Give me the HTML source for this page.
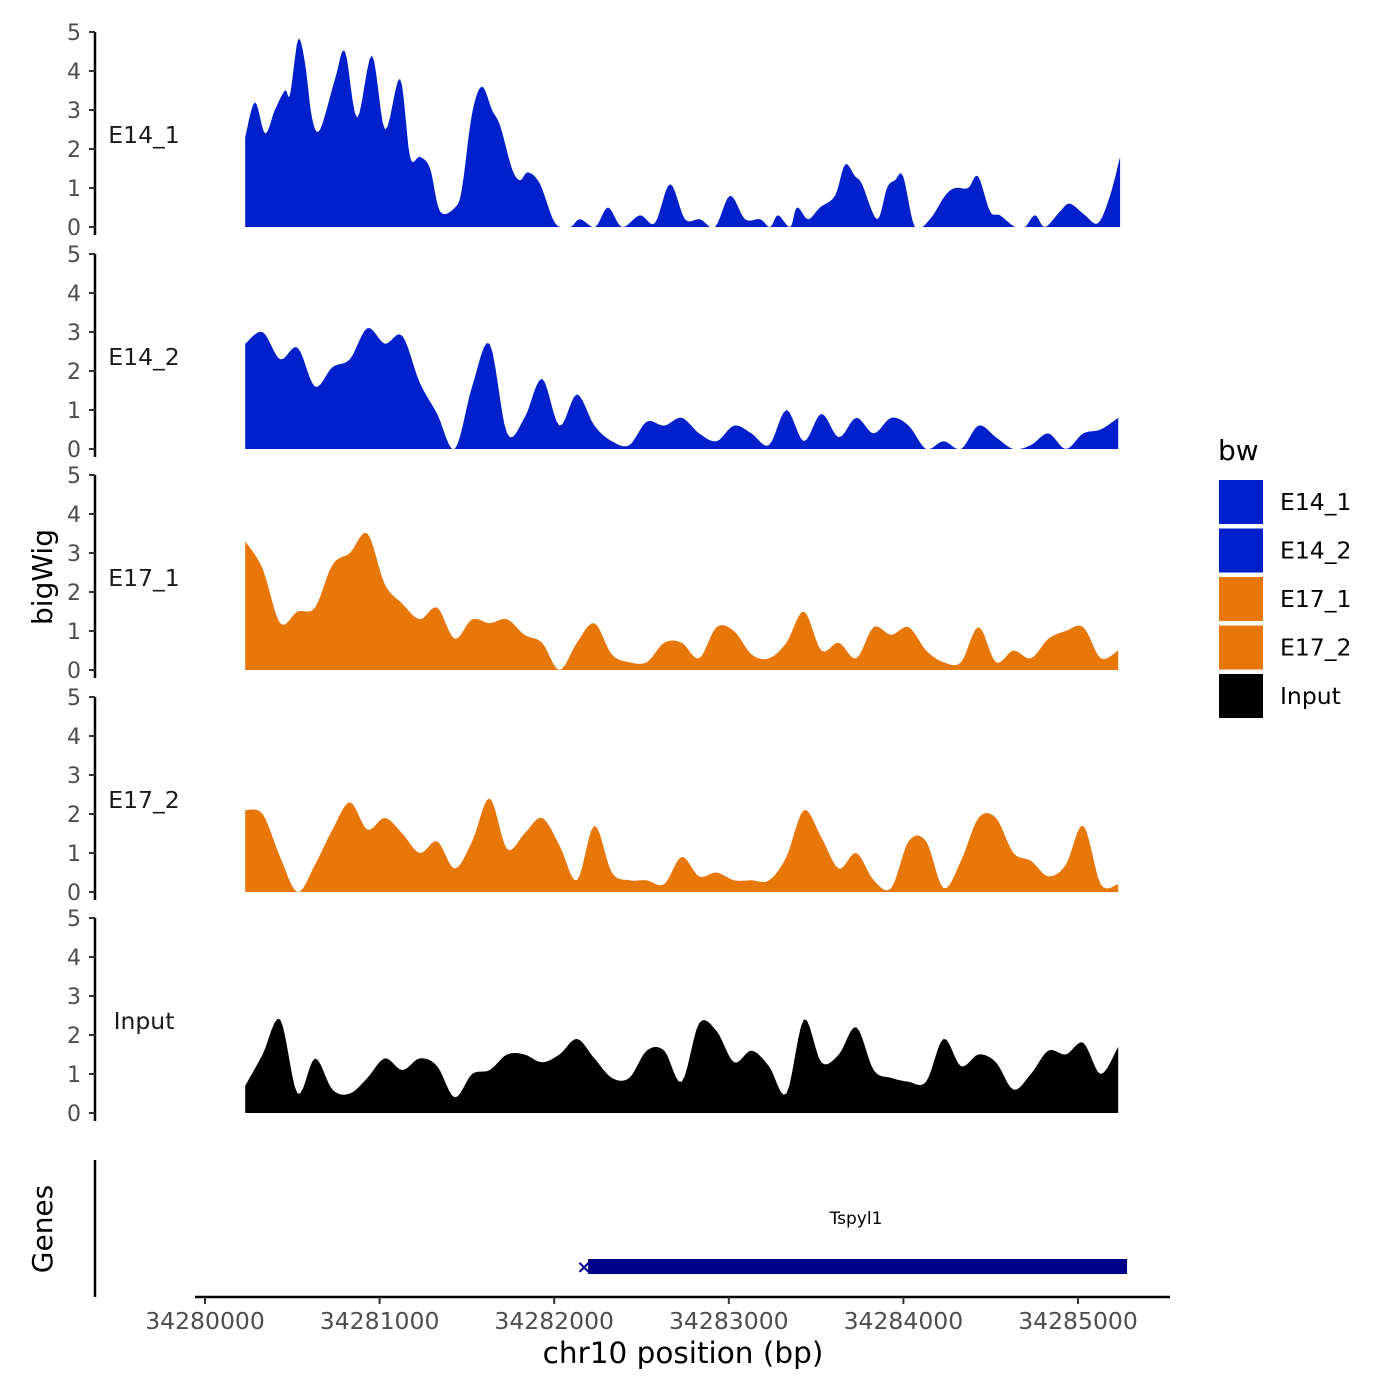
<!DOCTYPE html>
<html><head><meta charset="utf-8"><style>
body{margin:0;background:#fff}
svg{display:block;font-family:"DejaVu Sans","Liberation Sans",sans-serif}
</style></head><body>
<svg id="chart" width="1400" height="1400" viewBox="0 0 1400 1400"></svg>
<script>
const START = 34280000;
// E14_1: irregular positions (kb from START) and values
const e14_1_kb = [0.23,0.286,0.344,0.40,0.458,0.487,0.533,0.573,0.613,0.659,0.745,0.802,0.871,0.956,1.031,1.117,1.174,1.231,1.289,1.346,1.432,1.472,1.529,1.586,1.644,1.690,1.758,1.804,1.850,1.919,2.005,2.090,2.148,2.234,2.308,2.388,2.491,2.577,2.663,2.749,2.835,2.921,3.007,3.093,3.179,3.236,3.282,3.351,3.391,3.454,3.522,3.608,3.666,3.723,3.763,3.849,3.906,3.952,3.998,4.066,4.152,4.238,4.296,4.370,4.427,4.496,4.553,4.639,4.696,4.754,4.811,4.897,4.954,5.040,5.115,5.183,5.241];
const e14_1_vals = [2.3,3.2,2.4,3.0,3.5,3.4,4.8,4.2,2.8,2.5,3.8,4.5,2.8,4.4,2.5,3.8,1.8,1.8,1.5,0.4,0.5,1.0,2.9,3.6,3.0,2.6,1.5,1.2,1.4,1.1,0.1,0,0.2,0,0.5,0,0.3,0.1,1.1,0.2,0.2,0,0.8,0.2,0.2,0,0.3,0,0.5,0.2,0.5,0.8,1.6,1.3,1.1,0.2,1.0,1.2,1.3,0,0.2,0.8,1.0,1.0,1.3,0.4,0.3,0,0,0.3,0,0.4,0.6,0.3,0.1,0.8,1.8];
// common grid: 0.23 kb + 0.1 kb steps
const gridKb = Array.from({length:51},(_,i)=>0.23+0.1*i);
const e14_2_vals = [2.7,3.0,2.3,2.6,1.6,2.1,2.3,3.1,2.7,2.9,1.7,0.9,0,1.6,2.7,0.4,0.8,1.8,0.6,1.4,0.6,0.2,0.1,0.7,0.6,0.8,0.4,0.2,0.6,0.4,0.1,1.0,0.2,0.9,0.3,0.8,0.4,0.8,0.6,0,0.2,0,0.6,0.3,0,0.1,0.4,0,0.4,0.5,0.8];
const e17_1_vals = [3.3,2.6,1.2,1.5,1.6,2.7,3.0,3.5,2.2,1.7,1.3,1.6,0.8,1.3,1.2,1.3,0.9,0.7,0,0.7,1.2,0.4,0.2,0.2,0.7,0.7,0.3,1.1,1.0,0.4,0.3,0.7,1.5,0.5,0.7,0.3,1.1,0.9,1.1,0.5,0.2,0.2,1.1,0.2,0.5,0.3,0.8,1.0,1.1,0.3,0.5];
const e17_2_vals = [2.1,2.0,0.9,0,0.7,1.6,2.3,1.6,1.9,1.5,1.0,1.3,0.6,1.3,2.4,1.1,1.5,1.9,1.2,0.3,1.7,0.5,0.3,0.3,0.2,0.9,0.4,0.5,0.3,0.3,0.3,0.9,2.1,1.4,0.6,1.0,0.3,0.1,1.3,1.3,0.1,0.8,1.9,1.9,1.0,0.8,0.4,0.7,1.7,0.2,0.2];
const input_vals = [0.7,1.5,2.4,0.5,1.4,0.6,0.5,0.9,1.4,1.1,1.4,1.2,0.4,1.0,1.1,1.5,1.5,1.3,1.5,1.9,1.4,0.9,0.9,1.6,1.6,0.8,2.3,2.1,1.3,1.6,1.2,0.5,2.4,1.3,1.5,2.2,1.1,0.9,0.8,0.8,1.9,1.2,1.5,1.3,0.6,1.0,1.6,1.5,1.8,1.0,1.7];
const trackNames = ["E14_1","E14_2","E17_1","E17_2","Input"];
const trackColors = ["#0020CC","#0020CC","#E8770A","#E8770A","#000000"];
const yTicks = [0,1,2,3,4,5];
const xTicks = [34280000,34281000,34282000,34283000,34284000,34285000];
const geneStart = 34282194, geneEnd = 34285281;

const svg = document.getElementById('chart');
const NS = 'http://www.w3.org/2000/svg';
function mk(tag, attrs, parent){const e=document.createElementNS(NS,tag);for(const k in attrs)e.setAttribute(k,attrs[k]);(parent||svg).appendChild(e);return e;}
const xScale = bp => 205 + (bp-START)*0.1746;
const baselines = [227,449,670,892,1113];
const yScale = (v,i) => baselines[i] - v*39;

const series = [
  {kb:e14_1_kb, v:e14_1_vals},
  {kb:gridKb, v:e14_2_vals},
  {kb:gridKb, v:e17_1_vals},
  {kb:gridKb, v:e17_2_vals},
  {kb:gridKb, v:input_vals}
];
series.forEach((s,i)=>{
  const g = mk('g',{});
  
  
  const xs = s.kb.map(k=>xScale(START+k*1000));
  const ys = s.v.map(v=>yScale(v,i));
  const n = xs.length;
  let d = 'M'+xs[0].toFixed(1)+','+baselines[i]+' L'+xs[0].toFixed(1)+','+ys[0].toFixed(1);
  for(let j=0;j<n-1;j++){
    const p0=j>0?j-1:j, p3=j+2<n?j+2:j+1;
    for(let t=1;t<=6;t++){
      const u=t/6,u2=u*u,u3=u2*u;
      const f=(a,b,c,e)=>0.5*((2*b)+(-a+c)*u+(2*a-5*b+4*c-e)*u2+(-a+3*b-3*c+e)*u3);
      const x=f(xs[p0],xs[j],xs[j+1],xs[p3]);
      let y=f(ys[p0],ys[j],ys[j+1],ys[p3]);
      if(y>baselines[i]) y=baselines[i];
      d+=' L'+x.toFixed(1)+','+y.toFixed(1);
    }
  }
  d += ' L'+xs[n-1].toFixed(1)+','+baselines[i]+' Z';
  const p = mk('path',{d:d, fill:trackColors[i]}, g);
  
  
  const ax = mk('line',{x1:95,x2:95,y1:yScale(5,i),y2:baselines[i]+8,stroke:'#000','stroke-width':2.5}, g);
  
  
  yTicks.forEach(t=>{
    const y = yScale(t,i);
    const tk = mk('line',{x1:89,x2:95,y1:y,y2:y,stroke:'#333','stroke-width':2}, g);
    
    
    const tl = mk('text',{x:81,y:y+8,'text-anchor':'end','font-size':22,fill:'#4d4d4d'}, g);
    tl.textContent = t;
    
    
  });
  const lb = mk('text',{x:144,y:baselines[i]-84,'text-anchor':'middle','font-size':23.5,fill:'#1a1a1a'}, g);
  lb.textContent = trackNames[i];
  
  
});

const yt = mk('text',{x:0,y:0,'text-anchor':'middle','font-size':28,fill:'#000',transform:'translate(52,577) rotate(-90)'});
yt.textContent='bigWig';


const gt = mk('text',{x:0,y:0,'text-anchor':'middle','font-size':28,fill:'#000',transform:'translate(52,1229) rotate(-90)'});
gt.textContent='Genes';



const ga = mk('line',{x1:95,x2:95,y1:1160,y2:1297,stroke:'#000','stroke-width':2.5});


const gb = mk('rect',{x:xScale(geneStart),y:1259,width:xScale(geneEnd)-xScale(geneStart),height:15,fill:'#00008B'});


const gs = mk('text',{x:xScale(geneStart)-4,y:1273,'text-anchor':'middle','font-size':18,'font-weight':'bold',fill:'#00008B'});
gs.textContent='×';


const gl = mk('text',{x:856,y:1224,'text-anchor':'middle','font-size':17,fill:'#000'});
gl.textContent='Tspyl1';



const xa = mk('line',{x1:195,x2:1170,y1:1297,y2:1297,stroke:'#000','stroke-width':2.5});


xTicks.forEach(t=>{
  const x = xScale(t);
  const tk = mk('line',{x1:x,x2:x,y1:1297,y2:1304,stroke:'#333','stroke-width':2});
  
  
  const tl = mk('text',{x:x,y:1329,'text-anchor':'middle','font-size':23.5,fill:'#4d4d4d'});
  tl.textContent=t;
  
  
});
const xt = mk('text',{x:683,y:1363,'text-anchor':'middle','font-size':29.5,fill:'#000'});
xt.textContent='chr10 position (bp)';



const lt = mk('text',{x:1218,y:460,'font-size':28,fill:'#000'});
lt.textContent='bw';


trackNames.forEach((n,i)=>{
  const y = 480 + i*48.5;
  const r = mk('rect',{x:1219,y:y,width:44,height:44,fill:trackColors[i]});
  
  
  const t = mk('text',{x:1280,y:y+30,'font-size':23.5,fill:'#000'});
  t.textContent=n;
  
  
});
</script>
</body></html>
